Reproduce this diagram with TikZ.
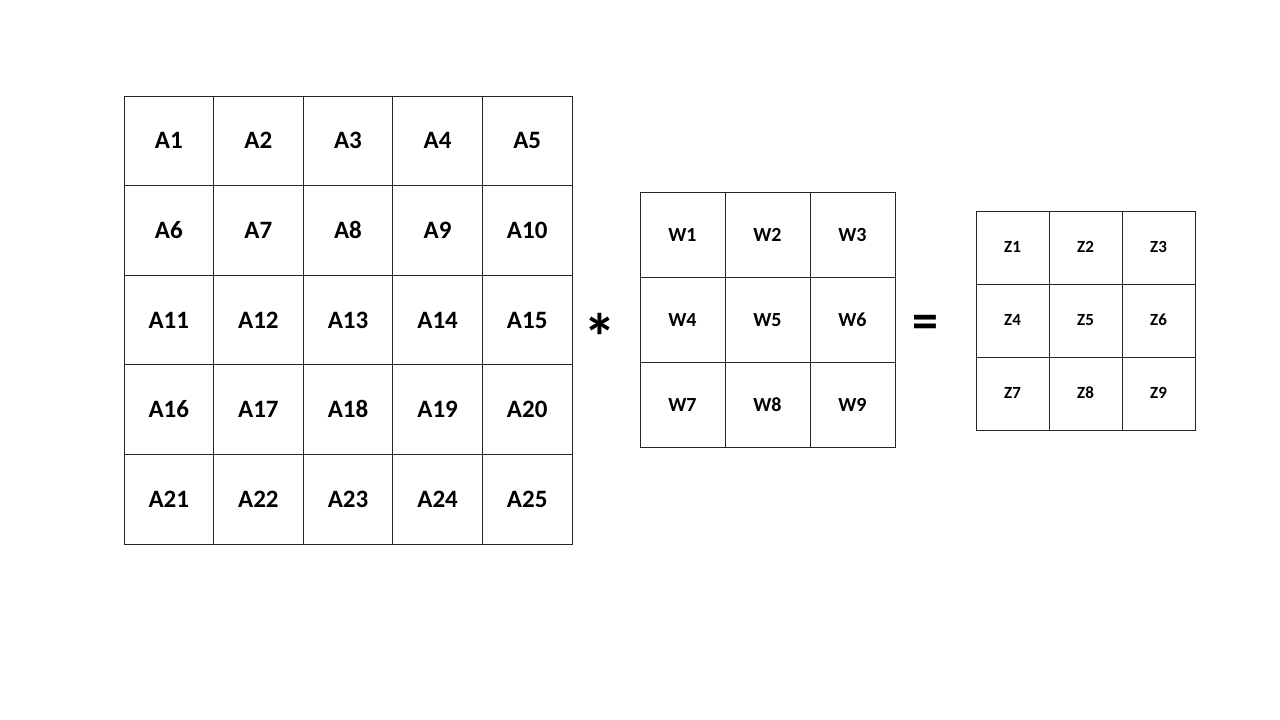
\documentclass[tikz,border=0pt]{standalone}
\usepackage{fontspec}
\setmainfont{Carlito}
\begin{document}
\begin{tikzpicture}[x=1pt,y=1pt,
  cellbase/.style={draw=black!85,line width=0.9pt,inner sep=0pt,text depth=0pt,font=\bfseries},
  acell/.style={cellbase,minimum width=89.6pt,minimum height=89.6pt,text height=16.1pt,font=\fontsize{25}{29}\selectfont\bfseries},
  wcell/.style={cellbase,minimum width=85pt,minimum height=85.3pt,text height=12.9pt,font=\fontsize{20}{24}\selectfont\bfseries},
  zcell/.style={cellbase,minimum width=73pt,minimum height=73pt,text height=10.9pt,font=\fontsize{17}{20}\selectfont\bfseries},
  opsym/.style={inner sep=0pt,font=\bfseries}]
\useasboundingbox (0,0) rectangle (1280,720);
% A grid
\foreach \r in {0,...,4}{
  \foreach \c in {1,...,5}{
    \pgfmathtruncatemacro{\n}{\r*5+\c}
    \node[acell] (a\n) at ({124+44.8+89.6*(\c-1)},{720-96-44.8-89.6*\r}) {A\n};
  }
}
% W grid
\foreach \r in {0,...,2}{
  \foreach \c in {1,...,3}{
    \pgfmathtruncatemacro{\n}{\r*3+\c}
    \node[wcell] (w\n) at ({640+42.5+85*(\c-1)},{720-192-42.65-85.3*\r}) {W\n};
  }
}
% Z grid
\foreach \r in {0,...,2}{
  \foreach \c in {1,...,3}{
    \pgfmathtruncatemacro{\n}{\r*3+\c}
    \node[zcell] (z\n) at ({976+36.5+73*(\c-1)},{720-211-36.5-73*\r}) {Z\n};
  }
}
\node[opsym,font=\fontsize{66}{70}\selectfont\bfseries] (star) at (600,{720-337}) {*};
\node[opsym,font=\fontsize{52}{56}\selectfont\bfseries] (eq) at (925,{720-327}) {=};
\end{tikzpicture}
\end{document}
